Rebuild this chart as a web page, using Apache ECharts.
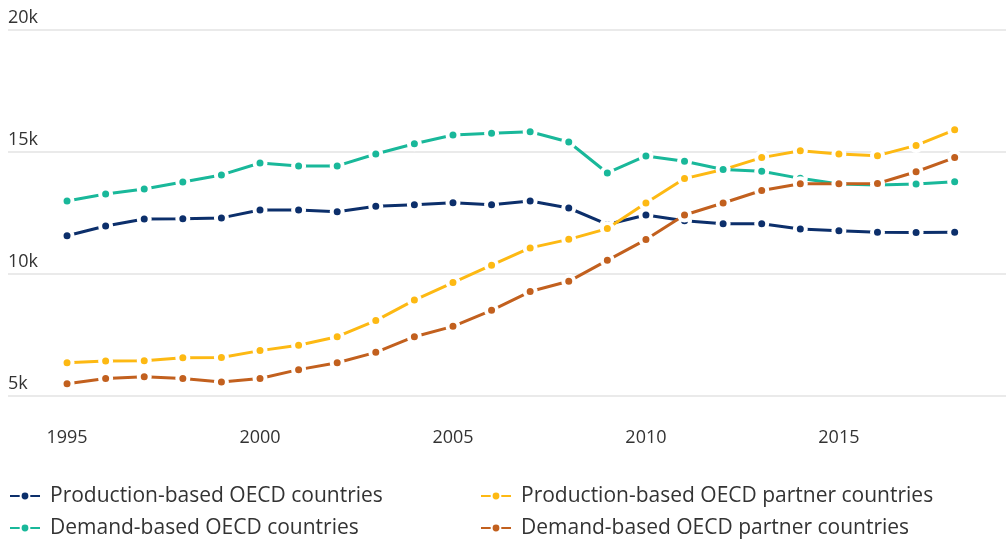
<!DOCTYPE html>
<html>
<head>
<meta charset="utf-8">
<script src="https://cdn.jsdelivr.net/npm/echarts@6/dist/echarts.min.js"></script>
<style>
html,body{margin:0;padding:0;background:#fff;}
#chart{width:1006px;height:539px;}
</style>
</head>
<body>
<div id="chart"></div>
<script>
const years = [1995,1996,1997,1998,1999,2000,2001,2002,2003,2004,2005,2006,2007,2008,2009,2010,2011,2012,2013,2014,2015,2016,2017,2018];
const xTickLabels = [1995,2000,2005,2010,2015];
const prodOECD = [11570,11970,12250,12260,12300,12620,12620,12550,12775,12840,12920,12840,12990,12705,12030,12420,12180,12060,12060,11840,11775,11710,11700,11710];
const demandOECD = [12990,13280,13480,13770,14060,14550,14430,14430,14920,15340,15700,15765,15830,15410,14140,14840,14620,14280,14210,13920,13690,13650,13690,13780];
const prodPartner = [6365,6430,6440,6570,6575,6860,7080,7430,8090,8930,9650,10360,11070,11420,11860,12910,13910,14280,14770,15055,14920,14850,15270,15910];
const demandPartner = [5505,5720,5790,5720,5575,5720,6080,6365,6790,7430,7855,8510,9280,9700,10560,11410,12420,12910,13420,13700,13700,13710,14190,14770];

const names = ['Production-based OECD countries','Production-based OECD partner countries','Demand-based OECD countries','Demand-based OECD partner countries'];
const colors = ['#0c2f6b','#fdb913','#19b89a','#c2601e'];
const datasets = [prodOECD, prodPartner, demandOECD, demandPartner];

const FONT = '"Open Sans", sans-serif';

const series = datasets.map((d, i) => ({
  name: names[i],
  type: 'line',
  data: d.map((v, k) => [years[k], v]),
  symbol: 'circle',
  symbolSize: 11,
  showSymbol: true,
  lineStyle: { color: colors[i], width: 3 },
  itemStyle: { color: colors[i], borderColor: '#ffffff', borderWidth: 4 },
  z: 2 + i
}));

// legend grid: column 1 = OECD countries, column 2 = partner countries
const legendPos = [[9, 484], [480, 484], [9, 516], [480, 516]];
const legends = names.map((n, i) => ({
  orient: 'horizontal',
  left: legendPos[i][0],
  top: legendPos[i][1],
  padding: 0,
  itemWidth: 30,
  itemHeight: 11,
  data: [n],
  textStyle: { fontFamily: FONT, fontSize: 21, color: '#333', lineHeight: 24, padding: [0, 0, 0, 5] },
  selectedMode: false
}));

const chart = echarts.init(document.getElementById('chart'), null, { renderer: 'canvas' });
chart.setOption({
  animation: false,
  color: colors,
  grid: { left: 8, right: 0, top: 30, bottom: 143, containLabel: false },
  xAxis: {
    type: 'value',
    min: 1993.47,
    max: 2019.33,
    axisLine: { show: false },
    axisTick: { show: false },
    splitLine: { show: false },
    axisLabel: {
      customValues: xTickLabels,
      fontFamily: FONT, fontSize: 18, color: '#333', margin: 33,
      formatter: v => String(v)
    }
  },
  yAxis: {
    type: 'value',
    min: 5000, max: 20000, interval: 5000,
    axisLine: { show: false },
    axisTick: { show: false },
    splitLine: { lineStyle: { color: '#e3e3e3', width: 1.5 } },
    axisLabel: {
      inside: true, margin: 0, verticalAlign: 'bottom', padding: [0,0,3,0],
      fontFamily: FONT, fontSize: 18, color: '#333',
      formatter: v => (v / 1000) + 'k'
    }
  },
  legend: legends,
  series: series
});
</script>
</body>
</html>
